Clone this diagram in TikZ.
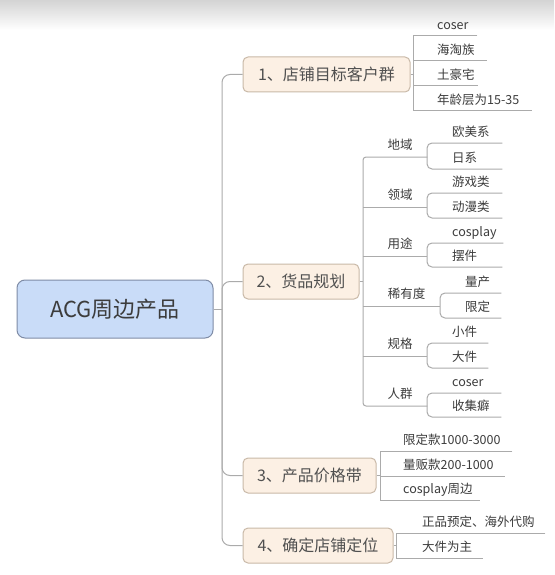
\documentclass[tikz,border=0pt]{standalone}
\usepackage{fontspec}
\setmainfont{Noto Sans CJK SC}
\definecolor{lineC}{HTML}{ABABAB}
\definecolor{txtC}{HTML}{3C3C3C}
\definecolor{rootFill}{HTML}{C9DCF8}
\definecolor{rootDraw}{HTML}{7F8CA6}
\definecolor{topFill}{HTML}{FCF0E4}
\definecolor{topDraw}{HTML}{C9B9A8}
\newcommand\leafbox[3]{\makebox[#1pt][l]{\hspace*{#2pt}#3}}
\newcommand\catbox[2]{\makebox[#1pt]{\hspace*{10pt}#2}}
\begin{document}
\begin{tikzpicture}[x=1pt,y=-1pt,
  ln/.style={draw=lineC, line width=1pt},
  rootbox/.style={draw=rootDraw, fill=rootFill, line width=1pt, rounded corners=8pt,
    minimum width=196pt, minimum height=58pt, text=txtC, font=\fontsize{22}{24}\selectfont},
  topic/.style={draw=topDraw, fill=topFill, line width=1pt, rounded corners=5pt,
    minimum height=35pt, inner xsep=0pt, text=txtC!90, font=\fontsize{16}{18}\selectfont},
  leaf/.style={anchor=south west, inner xsep=0pt, inner ysep=6pt, text height=10pt, text depth=0pt,
    text=txtC, font=\fontsize{12.5}{14}\selectfont},
  cat/.style={anchor=south west, inner xsep=0pt, inner ysep=7pt, text height=10pt, text depth=0pt,
    text=txtC, font=\fontsize{12.5}{14}\selectfont}]
\useasboundingbox (0,0) rectangle (554,575);
\fill[white] (0,0) rectangle (554,575);
\shade[top color=black!17, bottom color=white] (0,0) rectangle (554,30);

% root and main topics
\node[rootbox] (root) at (115,309) {ACG周边产品};
\node[topic, minimum width=167pt] (n1) at (326.5,74.5) {1、店铺目标客户群};
\node[topic, minimum width=116pt] (n2) at (301,281.5) {2、货品规划};
\node[topic, minimum width=133pt] (n3) at (309.5,475.5) {3、产品价格带};
\node[topic, minimum width=150pt] (n4) at (318,545.5) {4、确定店铺定位};

\coordinate (tr) at (222,309);
\draw[ln] (root.east) -- (tr);
\foreach \n in {n1,n2,n3,n4} \draw[ln, rounded corners=8pt] (tr) |- (\n.west);

% section 1
\node[leaf] (a1) at (413,36) {\leafbox{64}{24}{coser}};
\node[leaf] (a2) at (413,61) {\leafbox{74}{24}{海淘族}};
\node[leaf] (a3) at (413,86) {\leafbox{65}{24}{土豪宅}};
\node[leaf] (a4) at (413,111) {\leafbox{119}{24}{年龄层为15-35}};
\draw[ln] (n1.east) -- (n1.east -| a1.south west);
\draw[ln] (a1.south east) -- (a1.south west) -- (a4.south west) -- (a4.south east);
\draw[ln] (a2.south west) -- (a2.south east);
\draw[ln] (a3.south west) -- (a3.south east);

% section 2 categories
\node[cat] (k1) at (363,157) {\catbox{64}{地域}};
\node[cat] (k2) at (363,207) {\catbox{64}{领域}};
\node[cat] (k3) at (363,256) {\catbox{64}{用途}};
\node[cat] (k4) at (363,306) {\catbox{77}{稀有度}};
\node[cat] (k5) at (363,356) {\catbox{64}{规格}};
\node[cat] (k6) at (363,406) {\catbox{64}{人群}};
\draw[ln] (n2.east) -- (n2.east -| k1.south west);
\draw[ln, rounded corners=3pt] (k1.south east) -- (k1.south west) -- (k6.south west) -- (k6.south east);
\foreach \k in {k2,k3,k4,k5} \draw[ln] (\k.south west) -- (\k.south east);

% section 2 leaves
\node[leaf] (b1) at (427,143) {\leafbox{75}{25}{欧美系}};
\node[leaf] (b2) at (427,169) {\leafbox{75}{25}{日系}};
\node[leaf] (b3) at (427,193) {\leafbox{75}{25}{游戏类}};
\node[leaf] (b4) at (427,218) {\leafbox{75}{25}{动漫类}};
\node[leaf] (b5) at (427,243) {\leafbox{76}{25}{cosplay}};
\node[leaf] (b6) at (427,267) {\leafbox{75}{25}{摆件}};
\node[leaf] (b7) at (440,293) {\leafbox{61}{25}{量产}};
\node[leaf] (b8) at (440,318) {\leafbox{61}{25}{限定}};
\node[leaf] (b9) at (427,343) {\leafbox{61}{25}{小件}};
\node[leaf] (b10) at (427,368) {\leafbox{61}{25}{大件}};
\node[leaf] (b11) at (427,393) {\leafbox{74}{25}{coser}};
\node[leaf] (b12) at (427,417) {\leafbox{74}{25}{收集癖}};
\foreach \u/\v in {b1/b2,b3/b4,b5/b6,b7/b8,b9/b10,b11/b12}
  \draw[ln, rounded corners=5pt] (\u.south east) -- (\u.south west) -- (\v.south west) -- (\v.south east);

% section 3
\node[leaf] (c1) at (380,451) {\leafbox{132}{23}{限定款1000-3000}};
\node[leaf] (c2) at (380,476) {\leafbox{125}{23}{量贩款200-1000}};
\node[leaf] (c3) at (380,500) {\leafbox{100}{23}{cosplay周边}};
\draw[ln] (n3.east) -- (n3.east -| c1.south west);
\draw[ln] (c1.south east) -- (c1.south west) -- (c3.south west) -- (c3.south east);
\draw[ln] (c2.south west) -- (c2.south east);

% section 4
\node[leaf] (d1) at (396,533) {\leafbox{149}{26}{正品预定、海外代购}};
\node[leaf] (d2) at (396,558) {\leafbox{87}{26}{大件为主}};
\draw[ln] (n4.east) -- (n4.east -| d1.south west);
\draw[ln] (d1.south east) -- (d1.south west) -- (d2.south west) -- (d2.south east);
\end{tikzpicture}
\end{document}
